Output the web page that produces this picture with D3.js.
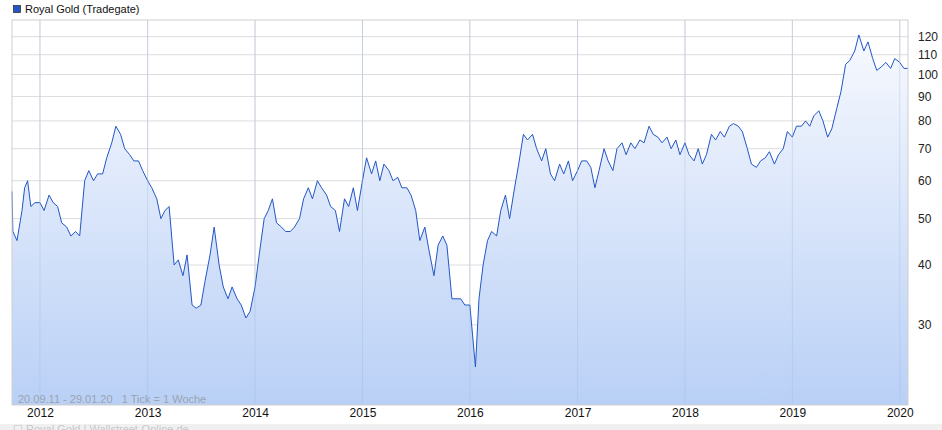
<!DOCTYPE html>
<html><head><meta charset="utf-8">
<script src="https://cdn.jsdelivr.net/npm/d3@7"></script>
<style>body{margin:0;background:#fff;font-family:"Liberation Sans",Arial,sans-serif}text{white-space:pre}</style>
</head><body><svg id="c" width="942" height="430"></svg>
<script>
// half-monthly points
const dates = ["2011-09-20","2011-10-01","2011-10-15","2011-11-01","2011-11-10","2011-11-20","2011-12-01","2011-12-15",
"2012-01-01","2012-01-15","2012-02-01","2012-02-15","2012-03-01","2012-03-15","2012-04-01","2012-04-15","2012-05-01","2012-05-15",
"2012-06-01","2012-06-15","2012-07-01","2012-07-15","2012-08-01","2012-08-15","2012-09-01","2012-09-15","2012-10-01","2012-10-15",
"2012-11-01","2012-11-15","2012-12-01","2012-12-15",
"2013-01-01","2013-01-15","2013-02-01","2013-02-15","2013-03-01","2013-03-15","2013-04-01","2013-04-15","2013-05-01","2013-05-15",
"2013-06-01","2013-06-15","2013-07-01","2013-07-15","2013-08-01","2013-08-15","2013-09-01","2013-09-15","2013-10-01","2013-10-15",
"2013-11-01","2013-11-15","2013-12-01","2013-12-15",
"2014-01-01","2014-01-15","2014-02-01","2014-02-15","2014-03-01","2014-03-15","2014-04-01","2014-04-15","2014-05-01","2014-05-15",
"2014-06-01","2014-06-15","2014-07-01","2014-07-15","2014-08-01","2014-08-15","2014-09-01","2014-09-15","2014-10-01","2014-10-15",
"2014-11-01","2014-11-15","2014-12-01","2014-12-15",
"2015-01-01","2015-01-15","2015-02-01","2015-02-15","2015-03-01","2015-03-15","2015-04-01","2015-04-15","2015-05-01","2015-05-15",
"2015-06-01","2015-06-15","2015-07-01","2015-07-15","2015-08-01","2015-08-15","2015-09-01","2015-09-15","2015-10-01","2015-10-15",
"2015-11-01","2015-11-15","2015-12-01","2015-12-15",
"2016-01-01","2016-01-20","2016-02-01","2016-02-15","2016-03-01","2016-03-15","2016-04-01","2016-04-15","2016-05-01","2016-05-15",
"2016-06-01","2016-06-15","2016-07-01","2016-07-15","2016-08-01","2016-08-15","2016-09-01","2016-09-15","2016-10-01","2016-10-15",
"2016-11-01","2016-11-15","2016-12-01","2016-12-15",
"2017-01-01","2017-01-15","2017-02-01","2017-02-15","2017-03-01","2017-03-15","2017-04-01","2017-04-15","2017-05-01","2017-05-15",
"2017-06-01","2017-06-15","2017-07-01","2017-07-15","2017-08-01","2017-08-15","2017-09-01","2017-09-15","2017-10-01","2017-10-15",
"2017-11-01","2017-11-15","2017-12-01","2017-12-15",
"2018-01-01","2018-01-15","2018-02-01","2018-02-15","2018-03-01","2018-03-15","2018-04-01","2018-04-15","2018-05-01","2018-05-15",
"2018-06-01","2018-06-15","2018-07-01","2018-07-15","2018-08-01","2018-08-15","2018-09-01","2018-09-15","2018-10-01","2018-10-15",
"2018-11-01","2018-11-15","2018-12-01","2018-12-15",
"2019-01-01","2019-01-15","2019-02-01","2019-02-15","2019-03-01","2019-03-15","2019-04-01","2019-04-15","2019-05-01","2019-05-15",
"2019-06-01","2019-06-15","2019-07-01","2019-07-15","2019-08-01","2019-08-15","2019-09-01","2019-09-15","2019-10-01","2019-10-15",
"2019-11-01","2019-11-15","2019-12-01","2019-12-15","2020-01-01","2020-01-15","2020-01-29"];
const prices = [57,47,45,52,58,60,53,54,
54,52,56,54,53,49,48,46,47,46,
60,63,60,62,62,67,72,78,75,70,
68,66,66,63,
60,58,55,50,52,53,40,41,38,42,
33,32.5,33,37,42,48,40,36,34,36,
34,33,31,32,
36,42,50,52,55,49,48,47,47,48,
50,55,58,55,60,58,56,53,52,47,
55,53,58,52,
60,67,62,66,60,65,63,60,61,58,
58,56,52,45,48,43,38,44,46,44,
34,34,34,33,
33,24.5,34,40,45,47,46,52,56,50,
58,65,75,73,75,70,66,70,62,60,
65,62,66,60,
63,66,66,64,58,63,70,66,63,70,
72,68,72,70,73,72,78,75,74,72,
74,70,73,68,
72,68,66,70,65,68,75,73,76,74,
78,79,78,76,70,65,64,66,67,69,
65,68,70,76,
74,78,78,80,78,82,84,80,74,77,
85,92,105,107,112,121,112,117,108,102,
104,106,103,108,106,103,103];
const yTicks = [30,40,50,60,70,80,90,100,110,120];
const years = [2012,2013,2014,2015,2016,2017,2018,2019,2020];

const data = dates.map((d,i)=>({t:new Date(d), v:prices[i]}));
const svg = d3.select('#c');
const L=12, R=908, T=20, B=405;
const x = d3.scaleTime().domain([new Date("2011-09-28"), new Date("2020-01-29")]).range([L,R]);
const y = d3.scaleLog().domain([20.4,130]).range([B,T]);

const grad = svg.append('defs').append('linearGradient').attr('id','g').attr('x1',0).attr('y1',0).attr('x2',0).attr('y2',1);
grad.append('stop').attr('offset','0%').attr('stop-color','#f7f9fe');
grad.append('stop').attr('offset','100%').attr('stop-color','#b9d0f6');

// grid
svg.append('g').selectAll('line').data(yTicks).join('line')
  .attr('x1',L).attr('x2',R).attr('y1',d=>y(d)).attr('y2',d=>y(d)).attr('stroke','#dcdcdc');
svg.append('g').selectAll('line').data(years).join('line')
  .attr('x1',d=>x(new Date(d,0,1))).attr('x2',d=>x(new Date(d,0,1))).attr('y1',T).attr('y2',B).attr('stroke','#dcdcdc');

const clipped = data.filter(d=>d.t>=x.domain()[0]);
clipped.unshift({t:x.domain()[0], v:57});
svg.append('path').datum(clipped).attr('fill','url(#g)')
  .attr('d', d3.area().x(d=>x(d.t)).y0(B).y1(d=>y(d.v)));
svg.append('path').datum(clipped).attr('fill','none').attr('stroke','#2356c6').attr('stroke-width',1)
  .attr('d', d3.line().x(d=>x(d.t)).y(d=>y(d.v)));

svg.append('g').selectAll('line').data(years).join('line')
  .attr('x1',d=>x(new Date(d,0,1))).attr('x2',d=>x(new Date(d,0,1))).attr('y1',T).attr('y2',B)
  .attr('stroke','#9fb8e0').attr('stroke-opacity',0.35);

svg.append('rect').attr('x',L).attr('y',T).attr('width',R-L).attr('height',B-T)
  .attr('fill','none').attr('stroke','#cfcfcf');

// axes
const yAxis = d3.axisRight(y).tickValues(yTicks).tickFormat(d3.format('d')).tickSize(0).tickPadding(10);
svg.append('g').attr('transform',`translate(${R},0)`).call(yAxis)
  .call(g=>g.select('.domain').remove())
  .selectAll('text').attr('font-size',12).attr('fill','#222').attr('font-family','Liberation Sans, Arial');
const xAxis = d3.axisBottom(x).tickValues(years.map(d=>new Date(d,0,1))).tickFormat(d3.timeFormat('%Y')).tickSize(0).tickPadding(3);
svg.append('g').attr('transform',`translate(0,${B})`).call(xAxis)
  .call(g=>g.select('.domain').remove())
  .selectAll('text').attr('font-size',12).attr('fill','#111').attr('font-family','Liberation Sans, Arial');

// legend and notes
svg.append('rect').attr('x',13.5).attr('y',5.5).attr('width',7).attr('height',7).attr('fill','#2356c6').attr('stroke','#333').attr('stroke-width',0.8);
svg.append('text').attr('x',25).attr('y',13).attr('font-size',11).attr('fill','#111').text('Royal Gold (Tradegate)');
svg.append('text').attr('x',18).attr('y',403).attr('font-size',11).attr('fill','#9aa3b0').text('20.09.11 - 29.01.20   1 Tick = 1 Woche');
svg.append('rect').attr('x',0).attr('y',424).attr('width',942).attr('height',6).attr('fill','#f0f0f0');
svg.append('text').attr('x',13).attr('y',433).attr('font-size',11).attr('fill','#c8c8c8').text('☐ Royal Gold | Wallstreet-Online.de');
</script></body></html>
